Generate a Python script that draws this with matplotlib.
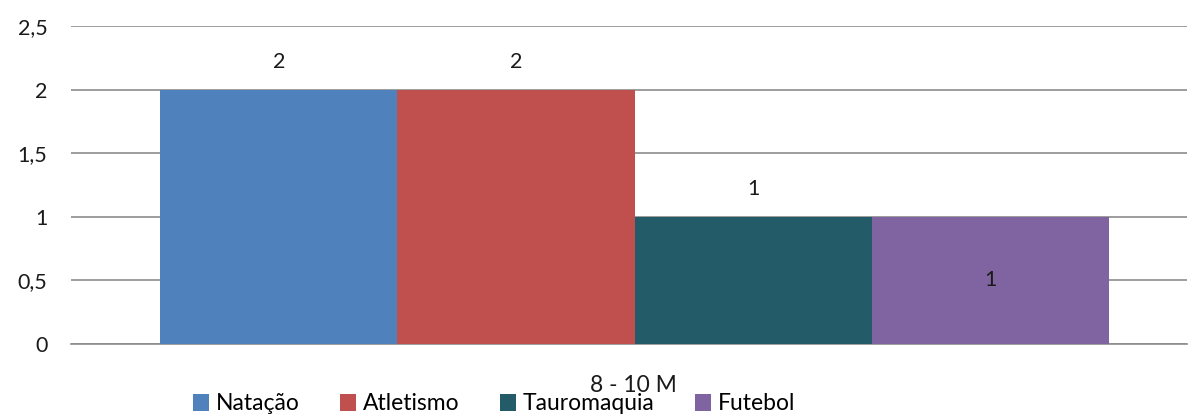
import matplotlib.pyplot as plt
from matplotlib.patches import Patch

categories = ['8 - 10 M']
series = ['Natação', 'Atletismo', 'Tauromaquia', 'Futebol']
values = [2, 2, 1, 1]
colors = ['#4F81BD', '#C0504D', '#235B69', '#8064A2']
yticks = [0, 0.5, 1, 1.5, 2, 2.5]
ytick_labels = ['0', '0,5', '1', '1,5', '2', '2,5']

plt.rcParams['font.family'] = ['Lato', 'DejaVu Sans']

fig = plt.figure(figsize=(11.89, 4.16), dpi=100)
ax = fig.add_axes([71 / 1189, 1 - 344 / 416, (1187 - 71) / 1189, (344 - 26) / 416])

bw = 0.2125
start = -0.42
for i, (name, v, c) in enumerate(zip(series, values, colors)):
    x = start + bw * (i + 0.5)
    ax.bar(x, v, width=bw, color=c, zorder=3)
    # data labels: last series sits inside the bar
    if i == len(series) - 1:
        ax.text(x, v / 2, str(v), ha='center', va='center', fontsize=15.5, color='#1a1a1a', zorder=4)
    else:
        ax.text(x, v + 0.22, str(v), ha='center', va='center', fontsize=15.5, color='#1a1a1a', zorder=4)

ax.set_xlim(-0.5, 0.5)
ax.set_ylim(0, 2.5)
ax.set_yticks(yticks)
ax.set_yticklabels(ytick_labels, fontsize=15.5, color='#1a1a1a')
ax.set_xticks([])
ax.yaxis.grid(True, color='#8c8c8c', linewidth=1.2, zorder=0)
ax.tick_params(axis='y', length=0, pad=17)
for s in ['top', 'right', 'left']:
    ax.spines[s].set_visible(False)
ax.spines['bottom'].set_color('#8c8c8c')
ax.spines['bottom'].set_linewidth(1.2)

fig.text(633 / 1189, 1 - 385 / 416, categories[0], ha='center', va='center', fontsize=16.5, color='#1a1a1a')

handles = [Patch(facecolor=c, label=n) for n, c in zip(series, colors)]
fig.legend(handles=handles, loc='center', bbox_to_anchor=(494 / 1189, 1 - 404 / 416), ncol=4,
           frameon=False, fontsize=16.5, handlelength=0.7, handleheight=0.7, handletextpad=0.3,
           columnspacing=1.75, borderpad=0)

fig.savefig('out.png', dpi=100)
